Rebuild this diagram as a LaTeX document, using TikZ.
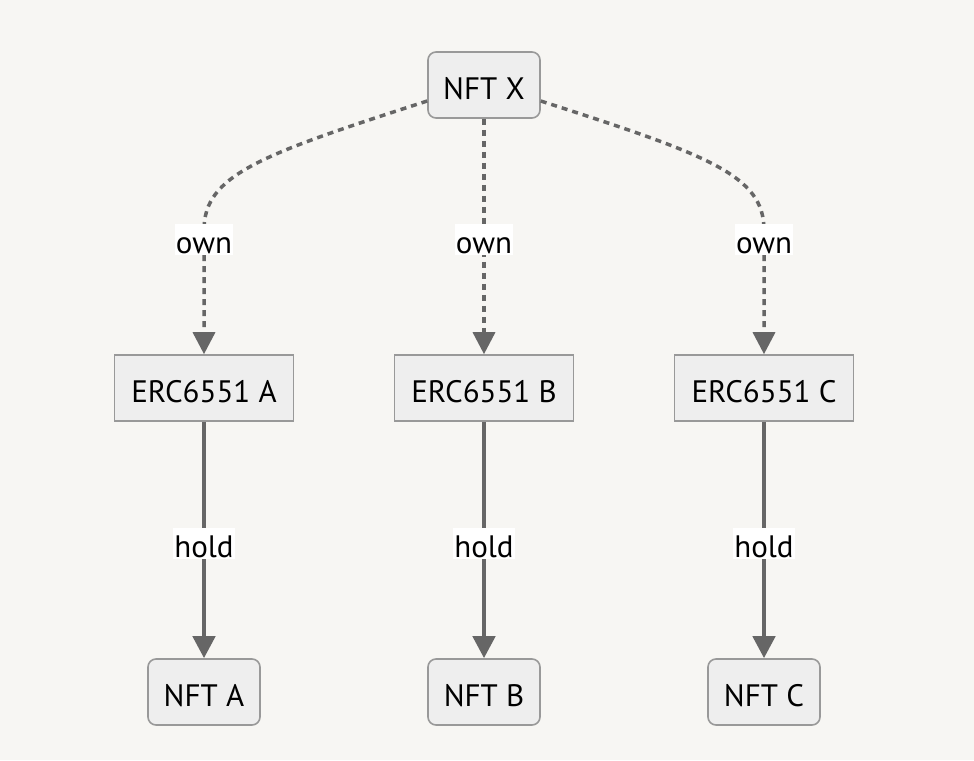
\documentclass[tikz,border=0pt]{standalone}
\usepackage{fontspec}
\setmainfont{PT Sans}
\usetikzlibrary{arrows.meta}
\definecolor{bg}{HTML}{F7F6F3}
\definecolor{nodefill}{HTML}{EEEEEE}
\definecolor{nodeline}{HTML}{999999}
\definecolor{edgecol}{HTML}{666666}
\begin{document}
\begin{tikzpicture}[x=1pt,y=-1pt,
  box/.style={draw=nodeline, fill=nodefill, line width=1.6pt, minimum height=66pt, inner sep=0pt, text height=29pt, text depth=0pt, text=black, font=\fontsize{31}{35}\selectfont},
  rbox/.style={box, rounded corners=8pt, minimum width=112pt},
  sbox/.style={box, minimum width=179pt},
  ownedge/.style={draw=edgecol, line width=3.5pt, dash pattern=on 6pt off 5pt, -{Triangle[length=22pt,width=22pt]}},
  holdedge/.style={draw=edgecol, line width=4.5pt, -{Triangle[length=22pt,width=22pt]}},
  lbl/.style={fill=white, inner sep=1pt, text height=29pt, text depth=0pt, text=black, font=\fontsize{31}{35}\selectfont}
]
\fill[bg] (0,0) rectangle (974,760);
\useasboundingbox (0,0) rectangle (974,760);

\node[rbox] (x) at (484,85) {NFT X};
\node[sbox] (ea) at (204,388) {ERC6551 A};
\node[sbox] (eb) at (484,388) {ERC6551 B};
\node[sbox] (ec) at (764,388) {ERC6551 C};
\node[rbox] (na) at (204,692) {NFT A};
\node[rbox] (nb) at (484,692) {NFT B};
\node[rbox] (nc) at (764,692) {NFT C};

\coordinate (xl) at ([yshift=-16pt]x.west);
\coordinate (xr) at ([yshift=-16pt]x.east);

\draw[ownedge] (xl) .. controls (260,155) and (204,175) .. (204,230) -- (ea.north);
\draw[ownedge] (x.south) -- (eb.north);
\draw[ownedge] (xr) .. controls (708,155) and (764,175) .. (764,230) -- (ec.north);

\draw[holdedge] (ea.south) -- (na.north);
\draw[holdedge] (eb.south) -- (nb.north);
\draw[holdedge] (ec.south) -- (nc.north);

\node[lbl] (l1) at (204,239) {own};
\node[lbl] (l2) at (484,239) {own};
\node[lbl] (l3) at (764,239) {own};
\node[lbl] (l4) at (204,543) {hold};
\node[lbl] (l5) at (484,543) {hold};
\node[lbl] (l6) at (764,543) {hold};
\end{tikzpicture}
\end{document}
